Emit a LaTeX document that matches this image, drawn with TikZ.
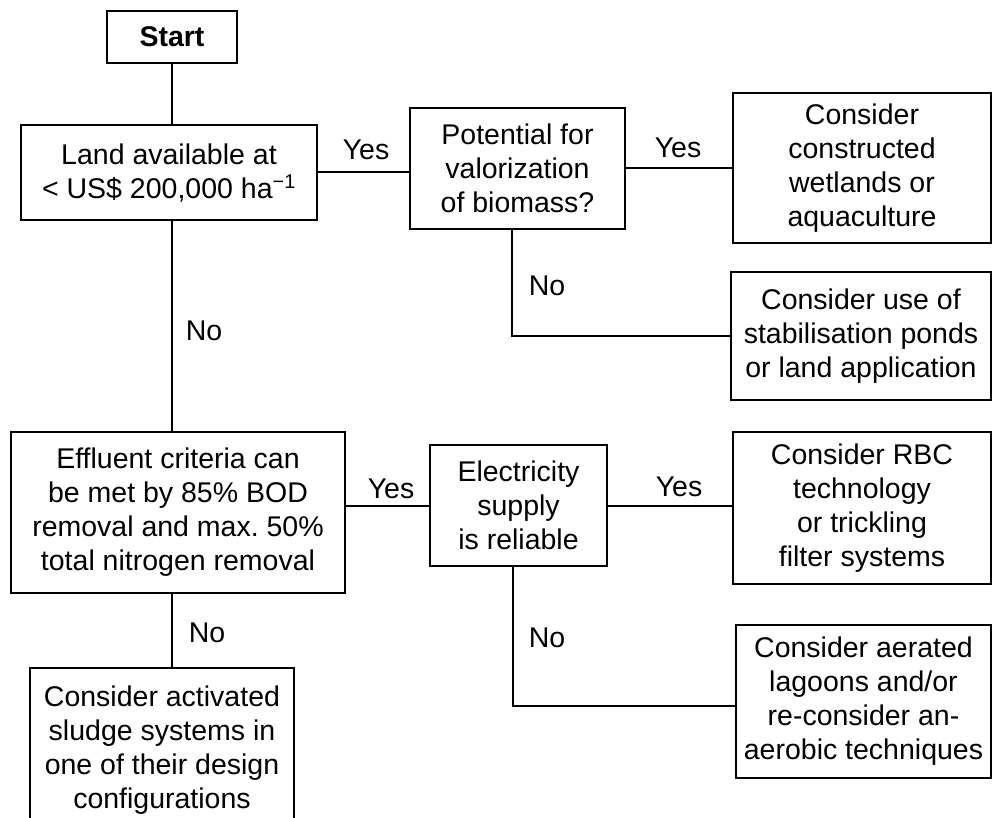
\documentclass[tikz,border=0pt]{standalone}
\usepackage{fontspec}
\setmainfont{Liberation Sans}
\frenchspacing
\begin{document}
\begin{tikzpicture}[x=1pt,y=-1pt,
  box/.style={draw, line width=2pt, inner sep=0pt, align=center, font=\fontsize{28.5}{34}\selectfont},
  lbl/.style={inner sep=0pt, font=\fontsize{28.5}{34}\selectfont},
  conn/.style={line width=2pt}]
\clip (0,0) rectangle (994,818);
\node[box, minimum width=130, minimum height=52] (start) at (172,37) {\textbf{Start}};
\node[box, minimum width=296, minimum height=95] (land) at (169,172.5) {Land available at\\< US\$ 200,000 ha\textsuperscript{−1}};
\node[box, minimum width=215, minimum height=121] (pot) at (517.5,168.5) {Potential for\\valorization\\of biomass?};
\node[box, minimum width=258, minimum height=150] (wet) at (862,168) {Consider\\constructed\\wetlands or\\aquaculture};
\node[box, minimum width=260, minimum height=128] (stab) at (861,336) {Consider use of\\stabilisation ponds\\or land application};
\node[box, minimum width=334, minimum height=161] (eff) at (178,512.5) {Effluent criteria can\\be met by 85\% BOD\\removal and max.\ 50\%\\total nitrogen removal};
\node[box, minimum width=177, minimum height=121] (elec) at (518.5,505.5) {Electricity\\supply\\is reliable};
\node[box, minimum width=258, minimum height=152] (rbc) at (862,508) {Consider RBC\\technology\\or trickling\\filter systems};
\node[box, minimum width=255, minimum height=153] (aer) at (863.5,701.5) {Consider aerated\\lagoons and/or\\re-consider an-\\aerobic techniques};
\node[box, minimum width=264, minimum height=164] (act) at (162,750) {Consider activated\\sludge systems in\\one of their design\\configurations};

\draw[conn] (start.south) -- (start.south |- land.north);
\draw[conn] (land.east) -- (land.east -| pot.west);
\draw[conn] (start.south |- land.south) -- (start.south |- eff.north);
\draw[conn] (pot.east) -- (pot.east -| wet.west);
\draw[conn] ([xshift=-5.5pt]pot.south) |- (stab.west);
\draw[conn] (eff.east |- elec.west) -- (elec.west);
\draw[conn] (elec.east) -- (elec.east -| rbc.west);
\coordinate (aerin) at ([yshift=-4.5pt]aer.west);
\draw[conn] ([xshift=-5.5pt]elec.south) |- (aerin);
\draw[conn] (start.south |- eff.south) -- (start.south |- act.north);

\node[lbl] (y1) at (366,150) {Yes};
\node[lbl] (y2) at (678,148) {Yes};
\node[lbl] (n1) at (204,331) {No};
\node[lbl] (n2) at (547,286) {No};
\node[lbl] (y3) at (391,489) {Yes};
\node[lbl] (y4) at (679,487) {Yes};
\node[lbl] (n3) at (547,638) {No};
\node[lbl] (n4) at (207,633) {No};
\end{tikzpicture}
\end{document}
